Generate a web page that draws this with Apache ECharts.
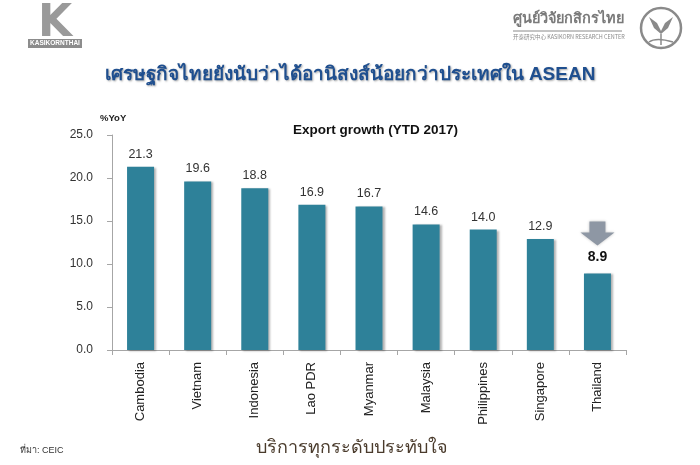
<!DOCTYPE html>
<html><head><meta charset="utf-8">
<script src="https://cdn.jsdelivr.net/npm/echarts@6/dist/echarts.min.js"></script>
<style>html,body{margin:0;padding:0;background:#fff}#c{width:700px;height:465px}</style>
</head><body><div id="c"></div>
<script>
const categories = ['Cambodia','Vietnam','Indonesia','Lao PDR','Myanmar','Malaysia','Philippines','Singapore','Thailand'];
const exportGrowth = [21.3, 19.6, 18.8, 16.9, 16.7, 14.6, 14.0, 12.9, 8.9];
const yTicks = {min: 0, max: 25, interval: 5};
const highlightCategory = 'Thailand';

const chart = echarts.init(document.getElementById('c'));
const seriesData = exportGrowth.map((v, i) => {
  if (categories[i] === highlightCategory) {
    return {value: v, label: {fontSize: 14, fontWeight: 'bold', color: '#111', distance: 9}};
  }
  return v;
});
chart.setOption({
  animation: false,
  backgroundColor: '#fff',
  grid: {left: 112, right: 74, top: 135, bottom: 115},
  title: [
    {text: 'เศรษฐกิจไทยยังนับว่าได้อานิสงส์น้อยกว่าประเทศใน ASEAN', left: 'center', top: 60,
     textStyle: {fontSize: 19, fontWeight: 'bold', color: '#1f4f8f', textShadowColor: 'rgba(0,0,0,0.35)', textShadowBlur: 2, textShadowOffsetX: 1, textShadowOffsetY: 1}},
    {text: 'Export growth (YTD 2017)', left: 288, top: 118,
     textStyle: {fontSize: 13.5, fontWeight: 'bold', color: '#111', fontFamily: 'Arial, Liberation Sans, sans-serif'}}
  ],
  xAxis: {
    type: 'category', data: categories,
    axisLine: {lineStyle: {color: '#a6a6a6'}},
    axisTick: {show: true, length: 5, lineStyle: {color: '#a6a6a6'}},
    axisLabel: {rotate: 90, color: '#222', fontSize: 13, fontFamily: 'Arial, Liberation Sans, sans-serif', margin: 12}
  },
  yAxis: {
    type: 'value', min: yTicks.min, max: yTicks.max, interval: yTicks.interval,
    name: '%YoY', nameLocation: 'end', nameGap: 12,
    nameTextStyle: {fontSize: 9.5, fontWeight: 'bold', color: '#222', align: 'left', padding: [0, 0, 0, -12]},
    axisLine: {show: true, lineStyle: {color: '#a6a6a6'}},
    axisTick: {show: true, inside: false, length: 5, lineStyle: {color: '#a6a6a6'}},
    splitLine: {show: false},
    axisLabel: {formatter: v => v.toFixed(1), color: '#333', fontSize: 12, fontFamily: 'Arial, Liberation Sans, sans-serif', margin: 19}
  },
  series: [{
    type: 'bar', data: seriesData, barWidth: 27,
    itemStyle: {color: '#2e8199', shadowColor: 'rgba(0,0,0,0.3)', shadowBlur: 2, shadowOffsetX: 2, shadowOffsetY: 1},
    label: {show: true, position: 'top', distance: 6, color: '#333', fontSize: 12.5,
            fontFamily: 'Arial, Liberation Sans, sans-serif', formatter: p => p.value.toFixed(1)},
    markPoint: {
      data: [{coord: [highlightCategory, exportGrowth[categories.indexOf(highlightCategory)]]}],
      symbol: 'path://M7,0 L23,0 L23,12 L32,12 L15,26 L-2,12 L7,12 Z',
      symbolSize: [34, 24], symbolOffset: [0, -40],
      itemStyle: {color: '#8e97a4', shadowColor: 'rgba(0,0,0,0.25)', shadowBlur: 3},
      label: {show: false}
    }
  }],
  graphic: [
    {type: 'text', x: 38, y: 3, style: {text: 'K', fontSize: 44, fontWeight: 'bold', fill: '#9a9a9a', fontFamily: 'DejaVu Sans'}},
    {type: 'rect', shape: {x: 28, y: 39, width: 54, height: 9}, style: {fill: '#8c8c8c'}},
    {type: 'text', x: 55, y: 40, style: {text: 'KASIKORNTHAI', fontSize: 6.5, fontWeight: 'bold', fill: '#fff', align: 'center', fontFamily: 'Arial, Liberation Sans, sans-serif'}},
    {type: 'text', x: 513, y: 11, style: {text: 'ศูนย์วิจัยกสิกรไทย', fontSize: 14.5, fontWeight: 'bold', fill: '#7a7a7a'}},
    {type: 'line', shape: {x1: 513, y1: 31, x2: 622, y2: 31}, style: {stroke: '#8a8a8a', lineWidth: 1}},
    {type: 'text', x: 513, y: 34, style: {text: '开泰研究中心 KASIKORN RESEARCH CENTER', fontSize: 5.5, fill: '#8a8a8a', fontFamily: 'Noto Sans CJK SC'}},
    {type: 'circle', shape: {cx: 661, cy: 28, r: 20}, style: {fill: 'none', stroke: '#8a8a8a', lineWidth: 2.5}},
    {type: 'polygon', shape: {points: [[649,17],[654,28],[661,34],[668,28],[673,17],[665,23],[661,31],[657,23]]}, style: {fill: '#8a8a8a'}},
    {type: 'line', shape: {x1: 661, y1: 34, x2: 661, y2: 45}, style: {stroke: '#8a8a8a', lineWidth: 1.5}},
    {type: 'bezierCurve', shape: {x1: 649, y1: 42, cpx1: 656, cpy1: 37, x2: 673, y2: 42}, style: {stroke: '#8a8a8a', lineWidth: 1.5, fill: 'none'}},
    {type: 'text', x: 20, y: 446, style: {text: 'ที่มา: CEIC', fontSize: 9, fill: '#333'}},
    {type: 'text', x: 352, y: 439, style: {text: 'บริการทุกระดับประทับใจ', fontSize: 18, fill: '#4a3b2c', align: 'center'}}
  ]
});
</script></body></html>
